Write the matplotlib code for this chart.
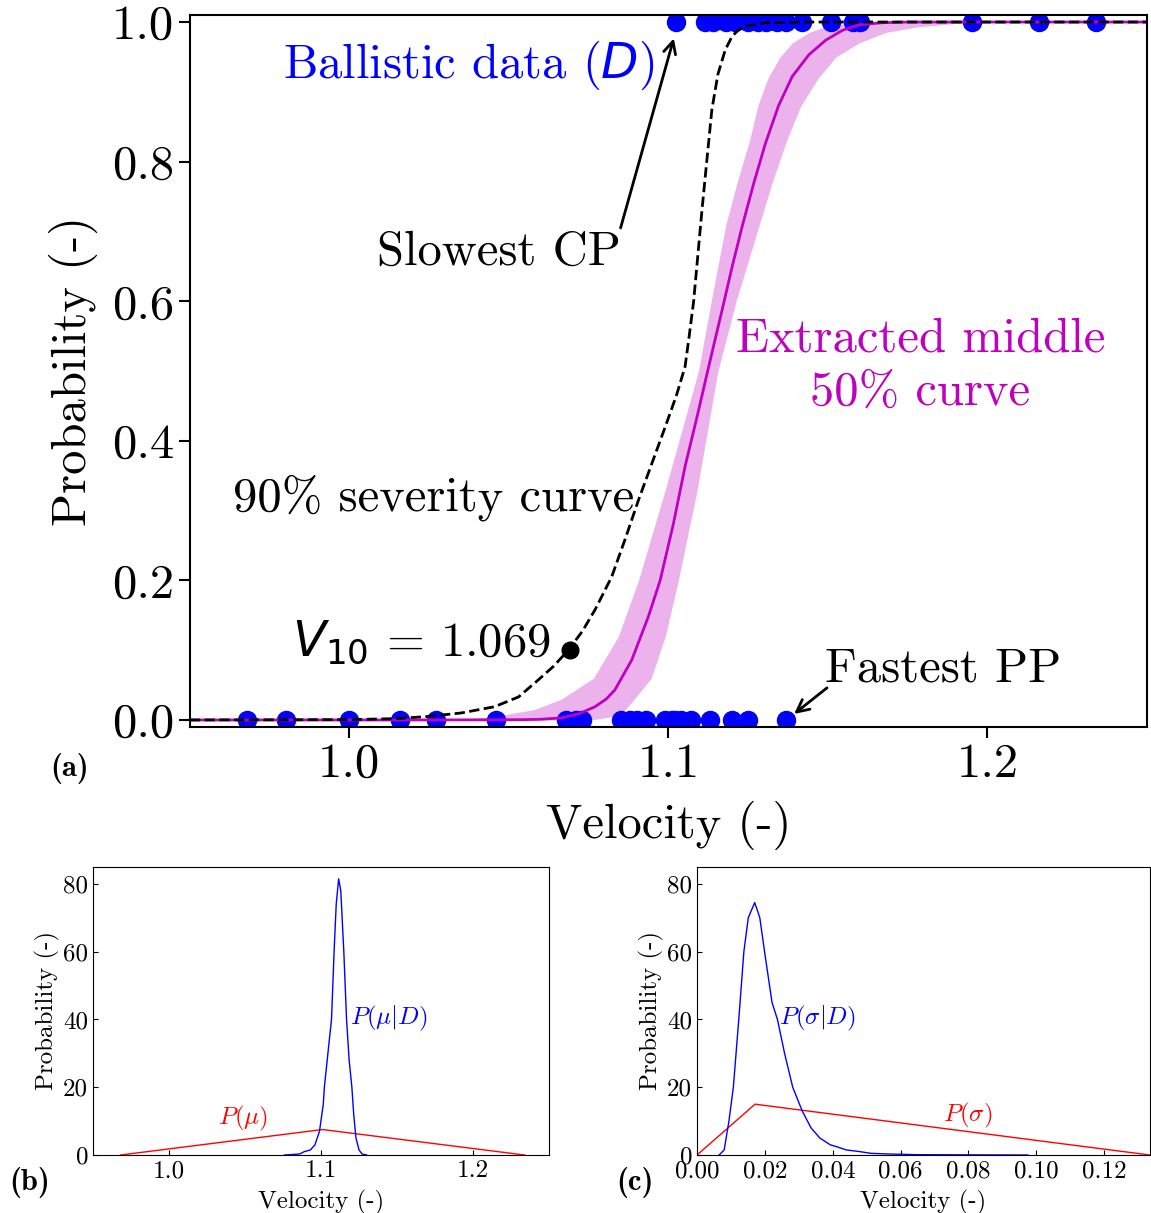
import numpy as np
import matplotlib
matplotlib.use("Agg")
import matplotlib.pyplot as plt
from matplotlib.ticker import FormatStrFormatter

plt.rcParams['font.family'] = 'serif'
plt.rcParams['font.serif'] = ['cmr10']
plt.rcParams['axes.unicode_minus'] = False

# ballistic data: non-perforations (0) and perforations (1)
v_zero = [0.968, 0.980, 1.000, 1.016, 1.027, 1.046, 1.068, 1.071, 1.073, 1.085,
          1.088, 1.090, 1.093, 1.099, 1.101, 1.102, 1.104, 1.107, 1.113, 1.120,
          1.125, 1.137]
v_one = [1.1025, 1.1116, 1.114, 1.118, 1.121, 1.125, 1.128, 1.1305, 1.134, 1.137,
         1.142, 1.151, 1.158, 1.160, 1.195, 1.216, 1.234]

# extracted middle 50% curve
mid_v = [0.95, 1.02, 1.045, 1.055, 1.060, 1.0665, 1.072, 1.077, 1.0805, 1.0832,
         1.0885, 1.0937, 1.0974, 1.1015, 1.1052, 1.109, 1.1126, 1.1168, 1.120, 1.1231,
         1.1268, 1.1304, 1.1345, 1.1388, 1.144, 1.1493, 1.1545, 1.1597, 1.167, 1.175,
         1.25]
mid_p = [0.0, 0.0, 0.0002, 0.0005, 0.001, 0.003, 0.009, 0.019, 0.03, 0.043,
         0.086, 0.148, 0.2, 0.28, 0.363, 0.435, 0.506, 0.587, 0.65, 0.707,
         0.77, 0.826, 0.88, 0.922, 0.953, 0.974, 0.988, 0.996, 0.999, 1.0,
         1.0]

# uncertainty band around the middle curve
band_p = [0.0, 0.001, 0.005, 0.015, 0.03, 0.06, 0.12, 0.2, 0.33, 0.5,
          0.6, 0.71, 0.77, 0.83, 0.88, 0.92, 0.95, 0.97, 0.985, 0.993,
          0.998, 1.0]
band_lo = [1.02, 1.035, 1.0455, 1.058, 1.0665, 1.0765, 1.0843, 1.0906, 1.099, 1.1094,
           1.1134, 1.118, 1.1215, 1.1254, 1.128, 1.1312, 1.135, 1.1388, 1.144, 1.149,
           1.156, 1.165]
band_hi = [1.07, 1.077, 1.0832, 1.0865, 1.0893, 1.0946, 1.099, 1.1031, 1.109, 1.1155,
           1.1212, 1.1285, 1.1325, 1.137, 1.1415, 1.147, 1.1525, 1.1597, 1.168, 1.178,
           1.19, 1.20]

# 90% severity curve
sev_v = [0.95, 1.0, 1.015, 1.0245, 1.035, 1.0455, 1.053, 1.0591, 1.064, 1.0686,
         1.073, 1.077, 1.0822, 1.0865, 1.0906, 1.095, 1.099, 1.1025, 1.1052, 1.1065,
         1.1079, 1.1092, 1.1105, 1.112, 1.1136, 1.1155, 1.1178, 1.120, 1.123, 1.1304,
         1.14, 1.25]
sev_p = [0.0, 0.0005, 0.002, 0.005, 0.010, 0.019, 0.033, 0.057, 0.077, 0.1,
         0.127, 0.158, 0.205, 0.26, 0.315, 0.37, 0.42, 0.465, 0.506, 0.55,
         0.60, 0.665, 0.73, 0.80, 0.874, 0.925, 0.96, 0.98, 0.993, 0.999,
         1.0, 1.0]
v10 = 1.069

# panel (b): mu prior and posterior
mu_prior_v = [0.968, 1.101, 1.234]
mu_prior_p = [0.0, 7.52, 0.0]
mu_post_v = [1.076, 1.086, 1.089, 1.093, 1.096, 1.099, 1.1015, 1.1022, 1.105, 1.1069,
             1.1086, 1.110, 1.1116, 1.113, 1.115, 1.1168, 1.1185, 1.1203, 1.1215, 1.123,
             1.125, 1.127, 1.130]
mu_post_p = [0.0, 0.3, 1.0, 1.5, 3.0, 7.0, 15.0, 20.0, 32.0, 40.0,
             60.0, 74.0, 81.5, 78.0, 60.0, 40.0, 28.0, 20.0, 12.0, 5.0,
             1.5, 0.3, 0.0]

# panel (c): sigma prior and posterior
sg_prior_v = [0.0, 0.0171, 0.1335]
sg_prior_p = [0.0, 15.0, 0.0]
sg_post_v = [0.0065, 0.0080, 0.0094, 0.0107, 0.0123, 0.0138, 0.0151, 0.0170, 0.0185, 0.0199,
             0.0221, 0.0237, 0.0258, 0.0282, 0.0310, 0.0336, 0.0362, 0.0393, 0.0410, 0.0440,
             0.0480, 0.0512, 0.0565, 0.0650, 0.0800, 0.0975]
sg_post_p = [0.0, 1.5, 10.0, 20.0, 40.0, 60.0, 70.0, 74.5, 70.0, 60.0,
             45.0, 40.0, 30.0, 20.0, 13.0, 8.0, 5.0, 3.0, 2.5, 1.5,
             1.0, 0.5, 0.3, 0.1, 0.05, 0.0]

fig = plt.figure(figsize=(11.51, 12.13), dpi=100)

# ---- main panel (a)
ax = fig.add_axes([0.165, 0.4007, 0.8315, 0.5869])
ax.plot(v_zero, np.zeros(len(v_zero)), 'o', color='blue', ms=13, zorder=2)
ax.plot(v_one, np.ones(len(v_one)), 'o', color='blue', ms=13, zorder=2)
ax.fill_betweenx(band_p, band_lo, band_hi, color='m', alpha=0.3, lw=0, zorder=1)
ax.plot(mid_v, mid_p, color='m', lw=2, zorder=3)
ax.plot(sev_v, sev_p, '--', color='k', lw=2, zorder=4)
ax.plot([v10], [0.1], 'o', color='k', ms=12, zorder=5)

ax.set_xlim(0.95, 1.25)
ax.set_ylim(-0.01, 1.01)
ax.set_xticks([1.0, 1.1, 1.2])
ax.set_yticks([0.0, 0.2, 0.4, 0.6, 0.8, 1.0])
ax.xaxis.set_major_formatter(FormatStrFormatter('%.1f'))
ax.yaxis.set_major_formatter(FormatStrFormatter('%.1f'))
ax.tick_params(labelsize=35, length=8, width=1.5)
for s in ax.spines.values():
    s.set_linewidth(1.5)
ax.set_xlabel('Velocity (-)', fontsize=35, labelpad=10)
ax.set_ylabel('Probability (-)', fontsize=35, labelpad=10)

fs = 35
ax.text(1.0374, 0.938, 'Ballistic data ($D$)', color='blue', fontsize=fs,
        ha='center', va='center')
ax.text(1.047, 0.67, 'Slowest CP', fontsize=fs, ha='center', va='center')
ax.annotate('', xy=(1.1025, 0.99), xytext=(1.085, 0.705),
            arrowprops=dict(arrowstyle='->', lw=2, color='k',
                            shrinkA=0, shrinkB=7, mutation_scale=22))
ax.text(1.179, 0.507, 'Extracted middle\n50% curve', color='m', fontsize=fs,
        ha='center', va='center', linespacing=1.25)
ax.text(1.0264, 0.319, '90% severity curve', fontsize=fs, ha='center', va='center')
ax.text(1.0226, 0.112, '$V_{10}$ = 1.069', fontsize=fs, ha='center', va='center')
ax.text(1.186, 0.072, 'Fastest PP', fontsize=fs, ha='center', va='center')
ax.annotate('', xy=(1.137, 0.0), xytext=(1.1497, 0.046),
            arrowprops=dict(arrowstyle='->', lw=2, color='k',
                            shrinkA=0, shrinkB=7, mutation_scale=22))
fig.text(70 / 1151, 1 - 768 / 1213, '(a)', family='cmb10', fontsize=22,
         ha='center', va='center')

# ---- panel (b)
axb = fig.add_axes([0.0808, 0.0478, 0.3962, 0.2375])
axb.plot(mu_prior_v, mu_prior_p, color='red', lw=1)
axb.plot(mu_post_v, mu_post_p, color='blue', lw=1)
axb.set_xlim(0.95, 1.25)
axb.set_ylim(0, 85)
axb.set_xticks([1.0, 1.1, 1.2])
axb.set_yticks([0, 20, 40, 60, 80])
axb.xaxis.set_major_formatter(FormatStrFormatter('%.1f'))
axb.tick_params(direction='in', labelsize=18)
axb.set_xlabel('Velocity (-)', fontsize=18, labelpad=6)
axb.set_ylabel('Probability (-)', fontsize=18, labelpad=2)
axb.text(1.119, 40.4, r'$P(\mu|D)$', color='blue', fontsize=18,
         ha='left', va='center', math_fontfamily='cm')
axb.text(1.049, 10.9, r'$P(\mu)$', color='red', fontsize=18,
         ha='center', va='center', math_fontfamily='cm')
fig.text(30 / 1151, 1 - 1183 / 1213, '(b)', family='cmb10', fontsize=22,
         ha='center', va='center')

# ---- panel (c)
axc = fig.add_axes([0.6056, 0.0478, 0.3935, 0.2375])
axc.plot(sg_prior_v, sg_prior_p, color='red', lw=1)
axc.plot(sg_post_v, sg_post_p, color='blue', lw=1)
axc.set_xlim(0, 0.1335)
axc.set_ylim(0, 85)
axc.set_xticks([0.0, 0.02, 0.04, 0.06, 0.08, 0.10, 0.12])
axc.set_yticks([0, 20, 40, 60, 80])
axc.xaxis.set_major_formatter(FormatStrFormatter('%.2f'))
axc.tick_params(direction='in', labelsize=18)
axc.set_xlabel('Velocity (-)', fontsize=18, labelpad=6)
axc.set_ylabel('Probability (-)', fontsize=18, labelpad=2)
axc.text(0.0243, 40.4, r'$P(\sigma|D)$', color='blue', fontsize=18,
         ha='left', va='center', math_fontfamily='cm')
axc.text(0.0799, 11.8, r'$P(\sigma)$', color='red', fontsize=18,
         ha='center', va='center', math_fontfamily='cm')
fig.text(635 / 1151, 1 - 1183 / 1213, '(c)', family='cmb10', fontsize=22,
         ha='center', va='center')

fig.savefig('out.png', dpi=100)
